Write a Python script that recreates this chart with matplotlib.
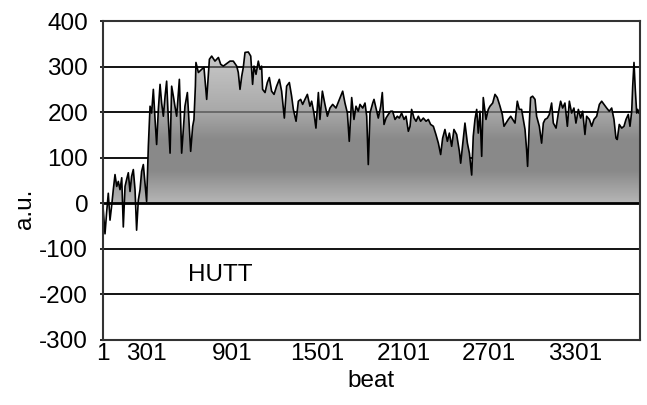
import numpy as np
import matplotlib.pyplot as plt
from matplotlib.patches import Polygon

plt.rcParams['font.family'] = ['Liberation Sans', 'DejaVu Sans']
plt.rcParams['axes.unicode_minus'] = False

# values, in four stretches
beats_a = [1, 15, 27, 38, 50, 62, 73, 85, 97, 108, 120, 132, 143, 155, 166, 178, 190, 201, 213, 225,
           236, 248, 260, 271, 283, 295, 306,
           318, 330, 341, 353, 365, 376, 388, 400, 411, 423, 435, 446, 458, 470, 481, 493, 504, 516, 535,
           551, 563, 574, 591, 605, 614, 628, 637, 647, 651, 668, 691, 707, 726, 745, 761, 784, 808, 824,
           842, 877]
vals_a = [-7, -67, -18, 22, -37, -4, 30, 63, 37, 48, 30, 56, -52, 37, 52, 67, 26, 59, 74, 30,
          -59, 7, 30, 70, 85, 44, 4,
          125, 213, 198, 250, 184, 129, 206, 261, 220, 191, 235, 268, 184, 110, 257, 235, 213, 191, 272,
          110, 162, 213, 243, 162, 114, 169, 184, 257, 309, 287, 294, 298, 228, 316, 323, 312, 320, 305,
          301, 309]

beats_b = [889, 912, 936, 947, 959, 971, 982, 994, 1017, 1034, 1047, 1057, 1071, 1087, 1099, 1110,
           1117, 1134, 1150, 1164, 1180, 1197, 1215, 1234, 1250, 1269, 1285, 1304, 1320, 1332, 1351,
           1367, 1383, 1397, 1413, 1430, 1448, 1460, 1476, 1490, 1507, 1518, 1535, 1553, 1570, 1588,
           1607, 1630, 1654, 1677, 1693, 1710, 1723, 1740, 1756, 1770, 1786]
vals_b = [312, 312, 301, 287, 250, 279, 298, 331, 332, 323, 261, 301, 283, 312, 294, 301,
          250, 243, 265, 276, 246, 239, 257, 272, 246, 187, 257, 265, 235, 206, 180,
          224, 228, 217, 228, 239, 213, 224, 198, 165, 243, 184, 246, 217, 191, 209,
          217, 209, 228, 246, 220, 198, 136, 232, 184, 213, 202]

beats_c = [1798, 1817, 1833, 1845, 1856, 1868, 1887, 1896, 1910, 1926, 1943, 1954, 1966, 1980, 1996,
           2012, 2026, 2043, 2059, 2073, 2089, 2106, 2120, 2136, 2148, 2159, 2176, 2190, 2206, 2222,
           2241, 2260, 2276, 2292, 2311, 2329, 2346, 2362, 2376, 2392, 2409, 2423, 2439, 2455, 2474,
           2493, 2502, 2516, 2532, 2549, 2563, 2579, 2590, 2602, 2614, 2625, 2637, 2649, 2660, 2679, 2695]
vals_c = [217, 209, 220, 191, 85, 198, 220, 228, 209, 187, 213, 243, 173, 187, 195,
          202, 202, 184, 191, 187, 198, 184, 191, 158, 169, 206, 187, 180, 191, 180,
          187, 180, 184, 173, 169, 151, 132, 107, 143, 162, 136, 154, 125, 162, 151,
          114, 88, 129, 176, 132, 110, 62, 147, 184, 206, 154, 202, 103, 232, 184, 206]

beats_d = [2707, 2726, 2742, 2758, 2777, 2793, 2805, 2819, 2835, 2852, 2866, 2882, 2898, 2912, 2928,
           2940, 2952, 2963, 2970, 2982, 2991, 3005, 3022, 3033, 3052, 3068, 3080, 3092, 3108, 3122,
           3138, 3150, 3169, 3185, 3201, 3215, 3231, 3248, 3262, 3278, 3294, 3308, 3325, 3341, 3355,
           3371, 3383, 3402, 3418, 3434, 3453, 3472, 3488, 3504, 3523, 3541, 3558, 3574, 3588, 3597,
           3611, 3628, 3644, 3658, 3674, 3686, 3698, 3705, 3714, 3723, 3733, 3740, 3749]
vals_d = [213, 220, 239, 232, 213, 195, 169, 176, 184, 191, 184, 176, 224, 206, 206,
          184, 162, 118, 81, 176, 232, 235, 228, 191, 169, 132, 176, 184, 187, 195,
          220, 176, 165, 198, 224, 209, 220, 169, 224, 198, 209, 176, 206, 187, 202,
          151, 191, 184, 169, 184, 191, 217, 224, 217, 209, 202, 209, 184, 143, 140,
          173, 165, 169, 184, 195, 169, 202, 257, 309, 250, 198, 206, 198]

x_ticks = [1, 301, 901, 1501, 2101, 2701, 3301]
y_ticks = [-300, -200, -100, 0, 100, 200, 300, 400]

beat = np.array(beats_a + beats_b + beats_c + beats_d)
val = np.array(vals_a + vals_b + vals_c + vals_d)

fig = plt.figure(figsize=(6.47, 4.05), dpi=100)
ax = fig.add_axes([103 / 647, 1 - 340 / 405, (640 - 103) / 647, (340 - 21) / 405])

for g in [-200, -100, 100, 200, 300]:
    ax.axhline(g, color='black', lw=1.3, zorder=1)

# gradient fill: light at top, dark in the middle, lighter near zero
top = 340
rows = np.linspace(0, top, 256)
alpha = np.interp(rows, [0, 70, 140, 200, 300, 340], [0.62, 1.0, 1.0, 0.74, 0.52, 0.45])
img = np.zeros((256, 1, 4))
img[:, 0, :3] = 0.54
img[:, 0, 3] = alpha
poly = Polygon(np.column_stack([np.r_[beat[0], beat, beat[-1]], np.r_[0, val, 0]]),
               closed=True, facecolor='none', edgecolor='none')
ax.add_patch(poly)
im = ax.imshow(img, origin='lower', extent=[beat[0], beat[-1], 0, top],
               aspect='auto', zorder=2, interpolation='bilinear')
im.set_clip_path(poly)

ax.plot(beat, val, color='black', lw=1.2, zorder=3)
ax.axhline(0, color='black', lw=2, zorder=4)

ax.set_xlim(1, 3756)
ax.set_ylim(-300, 400)
ax.set_xticks(x_ticks)
ax.set_yticks(y_ticks)
ax.tick_params(axis='x', length=0, pad=2.2, labelsize=17.5)
ax.tick_params(axis='y', direction='out', length=2.2, width=1.2, pad=8.5, labelsize=17.5)
for s in ax.spines.values():
    s.set_color('#333333')
    s.set_linewidth(1.5)
    s.set_zorder(5)

ax.set_ylabel('a.u.', fontsize=17.5)
ax.yaxis.set_label_coords(-0.125, 0.41)
ax.set_xlabel('beat', fontsize=17.5)
ax.xaxis.set_label_coords(0.5, -0.094)

ax.text(595, -171, 'HUTT', fontsize=17.5, ha='left', va='baseline')

fig.savefig('out.png', dpi=100)
